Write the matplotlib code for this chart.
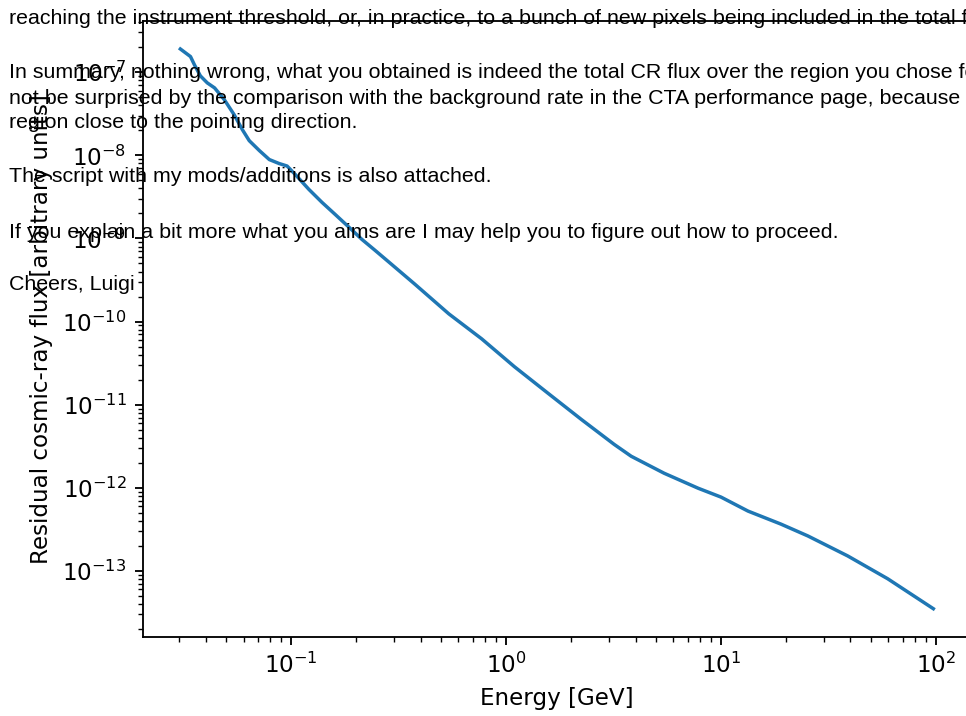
import matplotlib
matplotlib.use("Agg")
import matplotlib.pyplot as plt

# residual CR flux vs energy
energy = [0.0305, 0.0340, 0.0355, 0.0378, 0.0407, 0.0440, 0.0489, 0.0543, 0.0593, 0.0638,
          0.0711, 0.0791, 0.0879, 0.0957, 0.1045, 0.121, 0.139, 0.160, 0.186, 0.213,
          0.245, 0.285, 0.376, 0.541, 0.769, 1.094, 1.574, 2.239, 3.184, 3.819,
          5.433, 7.816, 10.0, 13.34, 18.97, 25.35, 38.8, 59.6, 97.2]
flux = [1.90e-7, 1.54e-7, 1.22e-7, 9.02e-8, 7.43e-8, 6.47e-8, 4.65e-8, 3.07e-8, 2.03e-8, 1.50e-8,
        1.14e-8, 8.89e-9, 7.96e-9, 7.43e-9, 5.87e-9, 3.88e-9, 2.72e-9, 1.95e-9, 1.36e-9, 9.77e-10,
        7.23e-10, 5.19e-10, 2.82e-10, 1.24e-10, 6.21e-11, 2.86e-11, 1.36e-11, 6.65e-12, 3.33e-12, 2.40e-12,
        1.50e-12, 9.91e-13, 7.74e-13, 5.26e-13, 3.67e-13, 2.64e-13, 1.52e-13, 8.07e-14, 3.52e-14]

# email text lying over the figure
email_lines = [
    "reaching the instrument threshold, or, in practice, to a bunch of new pixels being included in the total f",
    "In summary, nothing wrong, what you obtained is indeed the total CR flux over the region you chose fo",
    "not be surprised by the comparison with the background rate in the CTA performance page, because t",
    "region close to the pointing direction.",
    "The script with my mods/additions is also attached.",
    "If you explain a bit more what you aims are I may help you to figure out how to proceed.",
    "Cheers, Luigi",
]
email_y = [18, 72, 98, 123, 177, 232, 285]  # pixel rows from top

W, H, dpi = 966, 716, 166
fig = plt.figure(figsize=(W / dpi, H / dpi), dpi=dpi)
ax = fig.add_axes([142.7 / W, 79.3 / H, (971 - 142.7) / W, (636.7 - 21) / H])

ax.plot(energy, flux)
ax.set_xscale("log")
ax.set_yscale("log")
ax.set_xlabel("Energy [GeV]")
ax.set_ylabel("Residual cosmic-ray flux [arbitrary units]")

for line, y in zip(email_lines, email_y):
    fig.text(9 / W, 1 - y / H, line, va="center", ha="left",
             family="Liberation Sans", fontsize=9.25, color="black")

fig.savefig("out.png", dpi=dpi)
